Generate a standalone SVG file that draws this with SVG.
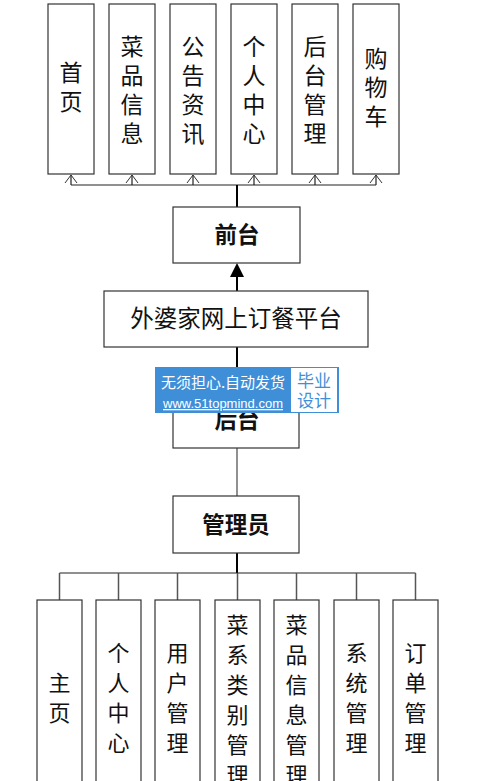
<svg xmlns="http://www.w3.org/2000/svg" width="494" height="781" viewBox="0 0 494 781">
<defs>
<style>
.box{fill:#fff;stroke:#333;stroke-width:1.2}
.t{font-family:"Noto Sans CJK SC","Noto Sans",sans-serif;fill:#111;text-anchor:middle}
.v{font-size:23px}
.vb{font-size:22px}
.b{font-size:22.5px;font-weight:bold}
.ln{stroke:#222;stroke-width:1.2;fill:none}
.ah{stroke:#333;stroke-width:1;fill:none}
.th{stroke:#000;stroke-width:2;fill:none}
</style>
</defs>
<rect width="494" height="781" fill="#fff"/>
<g id="connectors">
<path class="ln" d="M71,185 H376"/>
<path class="ln" d="M71,185 V175 M132,185 V175 M193,185 V175 M254,185 V175 M315,185 V175 M376,185 V175"/>
<path class="ah" d="M65,183 L71,175 L77,183 M126,183 L132,175 L138,183 M187,183 L193,175 L199,183 M248,183 L254,175 L260,183 M309,183 L315,175 L321,183 M370,183 L376,175 L382,183"/>
<path class="th" d="M237,185 V207"/>
<path class="th" d="M237,291 V276"/>
<path d="M230,277 L237,263 L244,277 Z" fill="#000"/>
<path class="th" d="M237,347 V392"/>
<path d="M237,448 V496" stroke="#555" stroke-width="1.3"/>
<path class="th" d="M237,553 V573"/>
<path class="ln" d="M59.5,573 H415.5"/>
<path d="M59.5,573 V600 M118.5,573 V600 M177.5,573 V600 M237.5,573 V600 M296.5,573 V600 M356.5,573 V600 M415.5,573 V600" stroke="#555" stroke-width="1.5" fill="none"/>
</g>
<g id="n-shouye"><rect class="box" x="48" y="4" width="46" height="170"/><text class="t v"><tspan x="71" y="81">首</tspan><tspan x="71" y="110">页</tspan></text></g>
<g id="n-caipin"><rect class="box" x="109" y="4" width="46" height="170"/><text class="t v"><tspan x="132" y="55">菜</tspan><tspan x="132" y="84">品</tspan><tspan x="132" y="113">信</tspan><tspan x="132" y="142">息</tspan></text></g>
<g id="n-gonggao"><rect class="box" x="170" y="4" width="46" height="170"/><text class="t v"><tspan x="193" y="55">公</tspan><tspan x="193" y="84">告</tspan><tspan x="193" y="113">资</tspan><tspan x="193" y="142">讯</tspan></text></g>
<g id="n-geren"><rect class="box" x="231" y="4" width="46" height="170"/><text class="t v"><tspan x="254" y="55">个</tspan><tspan x="254" y="84">人</tspan><tspan x="254" y="113">中</tspan><tspan x="254" y="142">心</tspan></text></g>
<g id="n-houtaiguanli"><rect class="box" x="292" y="4" width="46" height="170"/><text class="t v"><tspan x="315" y="55">后</tspan><tspan x="315" y="84">台</tspan><tspan x="315" y="113">管</tspan><tspan x="315" y="142">理</tspan></text></g>
<g id="n-gouwuche"><rect class="box" x="353" y="4" width="46" height="170"/><text class="t v"><tspan x="376" y="67">购</tspan><tspan x="376" y="96">物</tspan><tspan x="376" y="125">车</tspan></text></g>
<g id="n-qiantai"><rect class="box" x="173" y="207" width="127" height="56"/><text class="t b" x="237" y="243">前台</text></g>
<g id="n-platform"><rect class="box" x="104" y="291" width="264" height="56"/><text class="t" x="236" y="327" font-size="23.5">外婆家网上订餐平台</text></g>
<g id="n-houtai"><rect class="box" x="173" y="392" width="126" height="56"/><text class="t b" x="237" y="428">后台</text></g>
<g id="n-admin"><rect class="box" x="173" y="496" width="126" height="57"/><text class="t b" x="236" y="533" font-size="23">管理员</text></g>
<g id="n-zhuye"><rect class="box" x="37" y="600" width="45" height="200"/><text class="t vb"><tspan x="59.5" y="691">主</tspan><tspan x="59.5" y="721">页</tspan></text></g>
<g id="n-gerenzhongxin"><rect class="box" x="96" y="600" width="45" height="200"/><text class="t vb"><tspan x="118.5" y="661">个</tspan><tspan x="118.5" y="691">人</tspan><tspan x="118.5" y="721">中</tspan><tspan x="118.5" y="751">心</tspan></text></g>
<g id="n-yonghu"><rect class="box" x="155" y="600" width="45" height="200"/><text class="t vb"><tspan x="177.5" y="661">用</tspan><tspan x="177.5" y="691">户</tspan><tspan x="177.5" y="721">管</tspan><tspan x="177.5" y="751">理</tspan></text></g>
<g id="n-caixi"><rect class="box" x="215" y="600" width="45" height="200"/><text class="t vb"><tspan x="237.5" y="633">菜</tspan><tspan x="237.5" y="663">系</tspan><tspan x="237.5" y="693">类</tspan><tspan x="237.5" y="723">别</tspan><tspan x="237.5" y="753">管</tspan><tspan x="237.5" y="783">理</tspan></text></g>
<g id="n-caipinguanli"><rect class="box" x="274" y="600" width="45" height="200"/><text class="t vb"><tspan x="296.5" y="633">菜</tspan><tspan x="296.5" y="663">品</tspan><tspan x="296.5" y="693">信</tspan><tspan x="296.5" y="723">息</tspan><tspan x="296.5" y="753">管</tspan><tspan x="296.5" y="783">理</tspan></text></g>
<g id="n-xitong"><rect class="box" x="334" y="600" width="45" height="200"/><text class="t vb"><tspan x="356.5" y="661">系</tspan><tspan x="356.5" y="691">统</tspan><tspan x="356.5" y="721">管</tspan><tspan x="356.5" y="751">理</tspan></text></g>
<g id="n-dingdan"><rect class="box" x="393" y="600" width="45" height="200"/><text class="t vb"><tspan x="415.5" y="661">订</tspan><tspan x="415.5" y="691">单</tspan><tspan x="415.5" y="721">管</tspan><tspan x="415.5" y="751">理</tspan></text></g>
<g id="watermark">
<rect x="155" y="367" width="184" height="46" fill="#3f8fd8"/>
<rect x="291" y="368" width="46" height="44" fill="#fff"/>
<text font-family="'Noto Sans CJK SC',sans-serif" font-size="15" fill="#fff" x="223" y="388" text-anchor="middle">无须担心.自动发货</text>
<text font-family="'Liberation Sans',sans-serif" font-size="13" fill="#fff" x="223" y="408" text-anchor="middle" text-decoration="underline">www.51topmind.com</text>
<text font-family="'Noto Sans CJK SC',sans-serif" font-size="17" fill="#3f8fd8" text-anchor="middle"><tspan x="314" y="387">毕业</tspan><tspan x="314" y="407">设计</tspan></text>
</g>
</svg>
